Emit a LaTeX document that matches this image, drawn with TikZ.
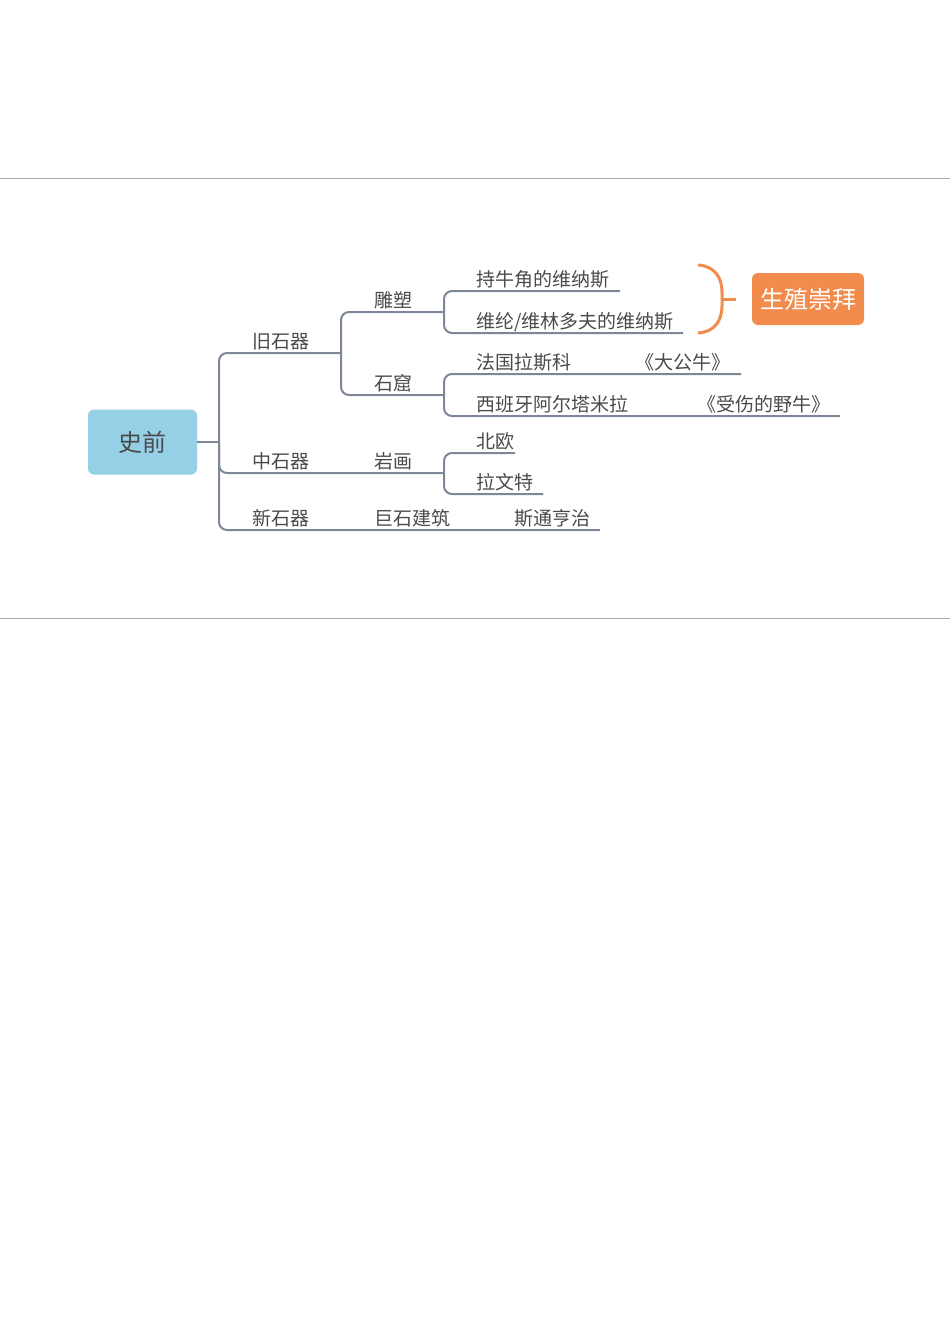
\documentclass[tikz,border=0pt]{standalone}
\usepackage{fontspec}
\usepackage{xcolor}
\usepackage{tikz}
\newfontfamily\cjk{Noto Sans CJK SC}
\definecolor{linegray}{HTML}{7E8798}
\definecolor{textgray}{HTML}{4A4A4A}
\definecolor{rootblue}{HTML}{95D0E6}
\definecolor{tagorange}{HTML}{F28B4C}
\definecolor{rulegray}{HTML}{A8A8A8}

\begin{document}
\begin{tikzpicture}[x=0.5pt, y=-0.5pt,
    link/.style={draw=linegray, line width=1pt, rounded corners=4pt},
    lbl/.style={anchor=base west, inner sep=0pt, text=textgray,
      font=\cjk\fontsize{9.5}{11}\selectfont},
    rootbox/.style={fill=rootblue, rounded corners=3pt, minimum width=54.5pt,
      minimum height=32.5pt, text=textgray, font=\cjk\fontsize{12}{14}\selectfont},
    tagbox/.style={fill=tagorange, rounded corners=3pt, minimum width=56pt,
      minimum height=26pt, text=white, font=\cjk\fontsize{12}{14}\selectfont}]
    \useasboundingbox (0,0) rectangle (950,1344);

    \coordinate (RuleTl) at (0, 178);
    \coordinate (RuleTr) at (950, 178);
    \coordinate (RuleBl) at (0, 618);
    \coordinate (RuleBr) at (950, 618);

    \coordinate (Fork) at (219, 442);
    \coordinate (Jiu) at (341, 353);
    \coordinate (Zhong) at (444, 473);
    \coordinate (Xin) at (600, 530);

    \coordinate (Diao) at (444, 312);
    \coordinate (Ku) at (444, 395);

    \coordinate (Chi) at (620, 291);
    \coordinate (Wei) at (683, 333);
    \coordinate (Fa) at (741, 374);
    \coordinate (Xi) at (840, 416);
    \coordinate (Bei) at (515, 453);
    \coordinate (La) at (543, 494);

    \coordinate (BrTop) at (698, 265);
    \coordinate (BrBot) at (698, 333);
    \coordinate (BrMid) at (722, 299);
    \coordinate (BrTip) at (736, 299);

    \draw[rulegray, line width=0.5pt] (RuleTl) -- (RuleTr);
    \draw[rulegray, line width=0.5pt] (RuleBl) -- (RuleBr);

    \node[rootbox] (Root) at (142.5, 442) {史前};
    \node[tagbox] (Tag) at (808, 299) {生殖崇拜};

    \node[lbl] (LJiu) at (252, 348) {旧石器};
    \node[lbl] (LZhong) at (252, 468) {中石器};
    \node[lbl] (LXin) at (252, 525) {新石器};

    \node[lbl] (LDiao) at (374, 307) {雕塑};
    \node[lbl] (LKu) at (374, 390) {石窟};
    \node[lbl] (LYan) at (374, 468) {岩画};
    \node[lbl] (LJu) at (374, 525) {巨石建筑};
    \node[lbl] (LSi) at (514, 525) {斯通亨治};

    \node[lbl] (LChi) at (476, 286) {持牛角的维纳斯};
    \node[lbl] (LWei) at (476, 328) {维纶/维林多夫的维纳斯};
    \node[lbl] (LFa) at (476, 369) {法国拉斯科};
    \node[lbl] (LDa) at (635, 369) {《大公牛》};
    \node[lbl] (LXi) at (476, 411) {西班牙阿尔塔米拉};
    \node[lbl] (LShou) at (697, 411) {《受伤的野牛》};
    \node[lbl] (LBei) at (476, 448) {北欧};
    \node[lbl] (LLa) at (476, 489) {拉文特};

    \draw[link] (Root.east) -- (Fork);
    \draw[link] (Fork) |- (Jiu);
    \draw[link] (Fork) |- (Zhong);
    \draw[link] (Fork) |- (Xin);

    \draw[link] (Jiu) |- (Diao);
    \draw[link] (Jiu) |- (Ku);

    \draw[link] (Diao) |- (Chi);
    \draw[link] (Diao) |- (Wei);
    \draw[link] (Ku) |- (Fa);
    \draw[link] (Ku) |- (Xi);
    \draw[link] (Zhong) |- (Bei);
    \draw[link] (Zhong) |- (La);

    \draw[tagorange, line width=1.5pt] (BrTop) .. controls (715, 266) and (722, 278) .. (722, 292)
      -- (722, 306) .. controls (722, 320) and (715, 332) .. (BrBot);
    \draw[tagorange, line width=1.5pt] (BrMid) -- (BrTip);
\end{tikzpicture}
\end{document}
